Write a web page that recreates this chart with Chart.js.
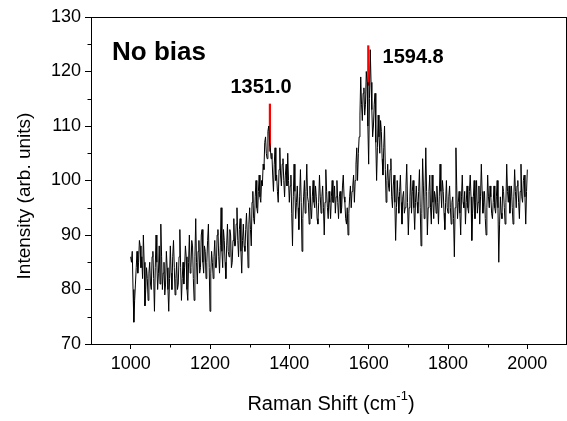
<!DOCTYPE html>
<html><head><meta charset="utf-8">
<script src="https://cdn.jsdelivr.net/npm/chart.js@4.4.1/dist/chart.umd.min.js"></script>
<style>
html,body{margin:0;padding:0;background:#fff;overflow:hidden;width:567px;height:421px}
#wrap{width:571px;height:421px}
</style></head>
<body><div id="wrap"><canvas id="c" width="571" height="421"></canvas></div>
<script>
// Raman shift sampling grid (cm^-1)
const shiftStart = 1000;
const shiftStep = 2;
// Intensity, one value every 2 cm^-1 from 1000 to 2000
const intensity = [
  86, 85, 87, 80, 74, 78, 81, 84, 87, 83, 85, 89, 88, 84, 86, 82, 90, 85, 77, 80,
  84, 82, 78, 83, 85, 81, 80, 86, 87, 82, 76, 84, 90, 85, 80, 83, 88, 81, 92, 86,
  80, 83, 85, 79, 81, 87, 84, 80, 76, 82, 88, 83, 80, 86, 89, 84, 79, 82, 85, 80,
  81, 86, 91, 84, 78, 82, 85, 81, 84, 88, 86, 80, 78, 85, 90, 83, 84, 89, 88, 82,
  78, 86, 93, 85, 81, 87, 89, 83, 84, 90, 91, 85, 83, 88, 87, 82, 85, 89, 92, 84,
  76, 83, 87, 85, 82, 86, 89, 84, 84, 90, 91, 86, 83, 88, 95, 87, 84, 91, 89, 85,
  82, 88, 92, 87, 86, 91, 90, 84, 85, 89, 93, 88, 88, 92, 95, 89, 86, 91, 93, 87,
  83, 89, 92, 88, 87, 91, 94, 90, 84, 92, 95, 91, 88, 96, 98, 93, 92, 97, 100, 95,
  94, 98, 101, 97, 96, 100, 99, 103, 102, 107, 108, 105, 104, 109, 110, 107, 106, 104, 105, 101,
  98, 103, 106, 100, 101, 98, 96, 102, 106, 101, 99, 103, 104, 100, 97, 101, 103, 99, 105, 100,
  96, 99, 101, 94, 88, 97, 103, 98, 93, 96, 99, 95, 91, 97, 102, 96, 87, 93, 97, 100,
  94, 98, 103, 97, 96, 92, 99, 95, 93, 97, 100, 96, 95, 99, 97, 93, 92, 96, 101, 97,
  94, 97, 99, 95, 90, 96, 102, 98, 95, 93, 98, 96, 93, 97, 100, 96, 96, 99, 94, 97,
  100, 96, 93, 97, 98, 94, 95, 99, 101, 97, 96, 93, 92, 95, 90, 94, 97, 99, 95, 98,
  99, 101, 96, 100, 103, 106, 100, 105, 108, 112, 119, 114, 111, 116, 117, 112, 114, 120, 118, 110,
  103, 115, 124, 118, 113, 108, 110, 114, 116, 107, 100, 106, 112, 108, 105, 111, 109, 104, 101, 106,
  110, 102, 96, 100, 103, 99, 98, 102, 104, 97, 95, 99, 101, 96, 89, 95, 100, 97, 94, 98,
  101, 96, 92, 97, 98, 94, 95, 99, 103, 96, 90, 95, 97, 101, 94, 98, 100, 95, 91, 96,
  99, 96, 94, 98, 102, 95, 88, 94, 104, 99, 93, 97, 106, 98, 90, 95, 98, 101, 95, 92,
  101, 96, 93, 98, 97, 94, 99, 96, 92, 97, 103, 98, 95, 100, 98, 94, 91, 96, 100, 95,
  94, 97, 99, 95, 92, 96, 97, 93, 86, 95, 106, 99, 93, 96, 98, 94, 90, 97, 101, 96,
  95, 98, 92, 96, 99, 95, 94, 98, 101, 97, 89, 94, 97, 100, 93, 96, 100, 94, 96, 99,
  92, 97, 103, 98, 94, 96, 98, 93, 90, 95, 101, 97, 95, 99, 97, 94, 93, 96, 99, 95,
  94, 97, 100, 95, 85, 92, 97, 94, 93, 99, 98, 95, 92, 96, 103, 98, 96, 99, 94, 97,
  99, 95, 92, 97, 102, 98, 95, 99, 100, 96, 93, 98, 103, 97, 96, 100, 101, 97, 92, 98,
  102
];
// Peak markers (red segments): [shift, intensity]
const peakD = [[1351, 105.3], [1351, 114.1]];
const peakG = [[1599, 117.4], [1599, 124.8]];
// Labels
const peakLabels = ['1351.0', '1594.8'];
const panelLabel = 'No bias';
const xTickLabels = [1000, 1200, 1400, 1600, 1800, 2000];
const yTickLabels = [70, 80, 90, 100, 110, 120, 130];
const xMinorTicks = [1100, 1300, 1500, 1700, 1900];
const yMinorTicks = [75, 85, 95, 105, 115, 125];
const xTitle = 'Raman Shift (cm';
const xTitleSup = '-1';
const yTitle = 'Intensity (arb. units)';

const FONT = 'Arial, "Liberation Sans", sans-serif';

const spectrum = intensity.map((v, i) => ({x: shiftStart + i * shiftStep, y: v}));
const toXY = arr => arr.map(p => ({x: p[0], y: p[1]}));

const decor = {
  id: 'decor',
  afterDraw(chart) {
    const {ctx, chartArea: a, scales: {x, y}} = chart;
    ctx.save();
    ctx.strokeStyle = '#000';
    ctx.lineWidth = 1;
    // frame top & right
    ctx.beginPath();
    ctx.moveTo(a.left, a.top + 0.5); ctx.lineTo(a.right, a.top + 0.5);
    ctx.moveTo(a.right - 0.5, a.top); ctx.lineTo(a.right - 0.5, a.bottom);
    ctx.stroke();
    // minor ticks
    ctx.beginPath();
    xMinorTicks.forEach(v => { const px = Math.round(x.getPixelForValue(v)) + 0.5; ctx.moveTo(px, a.bottom); ctx.lineTo(px, a.bottom + 3.5); });
    yMinorTicks.forEach(v => { const py = Math.round(y.getPixelForValue(v)) + 0.5; ctx.moveTo(a.left, py); ctx.lineTo(a.left - 3.5, py); });
    ctx.stroke();
    // annotations
    ctx.fillStyle = '#000';
    ctx.textBaseline = 'alphabetic';
    ctx.textAlign = 'left';
    ctx.font = 'bold 26px ' + FONT;
    ctx.fillText(panelLabel, x.getPixelForValue(953), y.getPixelForValue(122.2));
    ctx.font = 'bold 20px ' + FONT;
    ctx.fillText(peakLabels[0], x.getPixelForValue(1251.5), y.getPixelForValue(116.1));
    ctx.fillText(peakLabels[1], x.getPixelForValue(1635), y.getPixelForValue(121.6));
    // axis titles
    ctx.font = '20px ' + FONT;
    const w1 = ctx.measureText(xTitle).width;
    ctx.font = '13px ' + FONT;
    const w2 = ctx.measureText(xTitleSup).width;
    ctx.font = '20px ' + FONT;
    const w3 = ctx.measureText(')').width;
    let sx = 331 - (w1 + w2 + w3) / 2;
    ctx.fillText(xTitle, sx, 410);
    ctx.font = '13px ' + FONT;
    ctx.fillText(xTitleSup, sx + w1, 400);
    ctx.font = '20px ' + FONT;
    ctx.fillText(')', sx + w1 + w2, 410);
    ctx.save();
    ctx.font = '19px ' + FONT;
    ctx.translate(30, 196);
    ctx.rotate(-Math.PI / 2);
    ctx.textAlign = 'center';
    ctx.fillText(yTitle, 0, 0);
    ctx.restore();
    ctx.restore();
  }
};

new Chart(document.getElementById('c'), {
  type: 'line',
  data: {
    datasets: [
      {data: spectrum, borderColor: '#000', borderWidth: 1, pointRadius: 0, tension: 0, fill: false},
      {data: toXY(peakD), borderColor: '#ff0000', borderWidth: 2.2, pointRadius: 0, fill: false},
      {data: toXY(peakG), borderColor: '#ff0000', borderWidth: 2.2, pointRadius: 0, fill: false}
    ]
  },
  options: {
    responsive: false,
    animation: false,
    devicePixelRatio: 1,
    layout: {padding: {top: 17, right: 0, left: 0, bottom: 0}},
    plugins: {legend: {display: false}, tooltip: {enabled: false}},
    scales: {
      x: {
        type: 'linear', min: 900, max: 2100,
        afterFit(s) { s.height = 77; },
        border: {color: '#000', width: 1},
        grid: {drawOnChartArea: false, tickLength: 5, tickColor: c => xTickLabels.includes(c.tick && c.tick.value) ? '#000' : 'rgba(0,0,0,0)'},
        ticks: {stepSize: 100, autoSkip: false, maxRotation: 0, color: '#000', padding: 4,
          font: {family: FONT, size: 18},
          callback: v => xTickLabels.includes(v) ? String(v) : ''}
      },
      y: {
        min: 70, max: 130,
        afterFit(s) { s.width = 91; },
        border: {color: '#000', width: 1},
        grid: {drawOnChartArea: false, tickLength: 6, tickColor: c => yTickLabels.includes(c.tick && c.tick.value) ? '#000' : 'rgba(0,0,0,0)'},
        ticks: {stepSize: 5, autoSkip: false, color: '#000', padding: 4,
          font: {family: FONT, size: 18},
          callback: v => yTickLabels.includes(v) ? String(v) : ''}
      }
    }
  },
  plugins: [decor]
});
</script>
</body></html>
